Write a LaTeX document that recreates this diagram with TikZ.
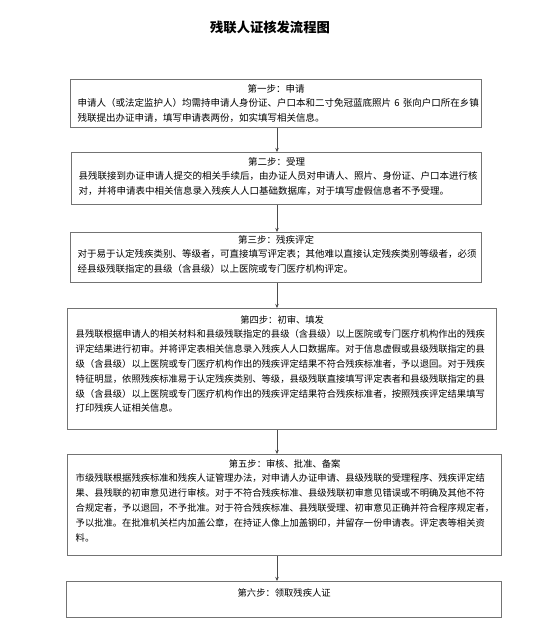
\documentclass[tikz,border=0pt]{standalone}
\usepackage{fontspec}
\newfontfamily\cjk{Noto Sans CJK SC}
\usetikzlibrary{arrows.meta}
\tikzset{
  stepframe/.style={draw=black!55,line width=1.4pt,rectangle,inner sep=0pt,anchor=north west},
  steptext/.style={anchor=north,inner sep=0pt,font=\cjk\fontsize{9.3pt}{14.8pt}\selectfont},
  toptext/.style={steptext,font=\cjk\fontsize{9.5pt}{14.5pt}\selectfont},
  flow/.style={draw=black!70,line width=.7pt,-{Stealth[length=4pt,width=3.5pt]}}
}
\newcommand{\stephead}[1]{{\centering #1\par}\raggedright}

\begin{document}
\begin{tikzpicture}[x=1pt,y=-1pt]
  \useasboundingbox[fill=white] (0,0) rectangle (537,633);
  \node[font=\cjk\bfseries\fontsize{13.3pt}{15pt}\selectfont] (title) at (270,27) {残联人证核发流程图};
  \coordinate (axis) at (277,0); % arrows all run down this line
  % frames
  \node[stepframe,minimum width=411pt,minimum height=48pt] (s1) at (70,79) {};
  \node[stepframe,minimum width=410pt,minimum height=52pt] (s2) at (71,152) {};
  \node[stepframe,minimum width=411pt,minimum height=50pt] (s3) at (70,232) {};
  \node[stepframe,minimum width=429pt,minimum height=121pt] (s4) at (67,308) {};
  \node[stepframe,minimum width=434pt,minimum height=101pt] (s5) at (67,454) {};
  \node[stepframe,minimum width=435pt,minimum height=36pt] (s6) at (66,581) {};
  % texts
  \node[toptext,text width=397pt] (t1) at ([yshift=-5pt]s1.north) {\stephead{第一步：申请}
    申请人（或法定监护人）均需持申请人身份证、户口本和二寸免冠蓝底照片~6~张向户口所在乡镇\\
    残联提出办证申请，填写申请表两份，如实填写相关信息。};
  \node[toptext,text width=396pt] (t2) at ([yshift=-5pt]s2.north) {\stephead{第二步：受理}
    县残联接到办证申请人提交的相关手续后，由办证人员对申请人、照片、身份证、户口本进行核\\
    对，并将申请表中相关信息录入残疾人人口基础数据库，对于填写虚假信息者不予受理。};
  \node[toptext,text width=397pt] (t3) at ([yshift=-3pt]s3.north) {\stephead{第三步：残疾评定}
    对于易于认定残疾类别、等级者，可直接填写评定表；其他难以直接认定残疾类别等级者，必须\\
    经县级残联指定的县级（含县级）以上医院或专门医疗机构评定。};
  \node[steptext,text width=413pt] (t4) at ([yshift=-7pt]s4.north) {\stephead{第四步：初审、填发}
    县残联根据申请人的相关材料和县级残联指定的县级（含县级）以上医院或专门医疗机构作出的残疾\\
    评定结果进行初审。并将评定表相关信息录入残疾人人口数据库。对于信息虚假或县级残联指定的县\\
    级（含县级）以上医院或专门医疗机构作出的残疾评定结果不符合残疾标准者，予以退回。对于残疾\\
    特征明显，依照残疾标准易于认定残疾类别、等级，县级残联直接填写评定表者和县级残联指定的县\\
    级（含县级）以上医院或专门医疗机构作出的残疾评定结果符合残疾标准者，按照残疾评定结果填写\\
    打印残疾人证相关信息。};
  \node[steptext,text width=418pt] (t5) at ([yshift=-5pt]s5.north) {\stephead{第五步：审核、批准、备案}
    市级残联根据残疾标准和残疾人证管理办法，对申请人办证申请、县级残联的受理程序、残疾评定结\\
    果、县残联的初审意见进行审核。对于不符合残疾标准、县级残联初审意见错误或不明确及其他不符\\
    合规定者，予以退回，不予批准。对于符合残疾标准、县残联受理、初审意见正确并符合程序规定者，\\
    予以批准。在批准机关栏内加盖公章，在持证人像上加盖钢印，并留存一份申请表。评定表等相关资\\
    料。};
  \node[steptext,text width=419pt] (t6) at ([yshift=-7pt]s6.north) {\stephead{第六步：领取残疾人证}};
  % connectors
  \draw[flow] (s1.south -| axis) -- (s2.north -| axis);
  \draw[flow] (s2.south -| axis) -- (s3.north -| axis);
  \draw[flow] (s3.south -| axis) -- (s4.north -| axis);
  \draw[flow] (s4.south -| axis) -- (s5.north -| axis);
  \draw[flow] (s5.south -| axis) -- (s6.north -| axis);
\end{tikzpicture}
\end{document}
